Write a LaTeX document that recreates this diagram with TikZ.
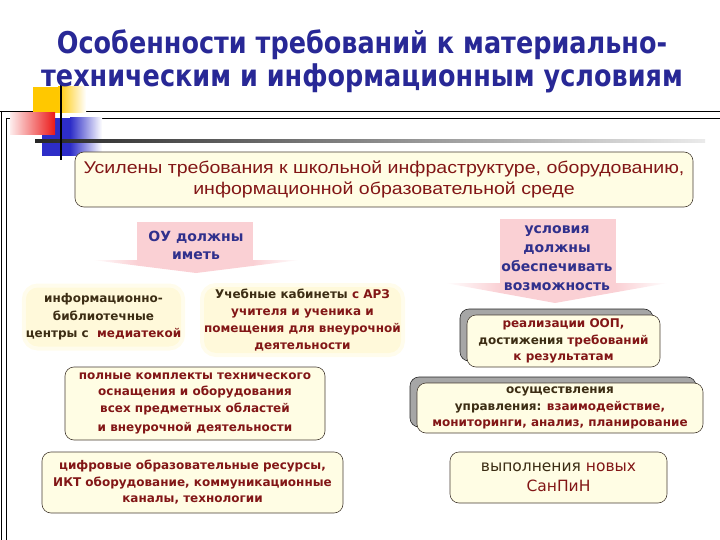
\documentclass[tikz,border=0pt]{standalone}
\usepackage{fontspec}
\setmainfont{DejaVu Sans}
\newfontfamily\titlefont{DejaVu Sans}[FakeStretch=0.85]
\newfontfamily\arialfont{Liberation Sans}[FakeStretch=1.15]
\usetikzlibrary{shadows}

\definecolor{titleblue}{RGB}{40,40,150}
\definecolor{darkred}{RGB}{130,22,22}
\definecolor{darktxt}{RGB}{60,45,20}
\definecolor{cream}{RGB}{255,253,228}
\definecolor{glowfill}{RGB}{255,249,218}
\definecolor{pinkarrow}{RGB}{250,208,212}
\definecolor{arrowblue}{RGB}{48,48,140}
\definecolor{boxline}{RGB}{70,60,50}
\definecolor{decoyellow}{RGB}{255,200,0}
\definecolor{decored}{RGB}{235,25,25}
\definecolor{decoblue}{RGB}{45,45,200}

\newcommand{\rd}[1]{\textcolor{darkred}{#1}}

\begin{document}
\begin{tikzpicture}[
  x=1pt, y=-1pt,
  box/.style={draw=boxline, line width=0.6pt, fill=cream, rounded corners=9pt, align=center,
    text=darkred, inner sep=0pt, font=\fontsize{12}{16.5}\selectfont\bfseries},
  glowbox/.style={fill=glowfill, draw=glowfill, draw opacity=0.5, line width=8pt, rounded corners=12pt,
    align=center, text=darktxt, inner sep=0pt, font=\fontsize{12}{17}\selectfont\bfseries},
  shadowbox/.style={box, drop shadow={shadow xshift=-7pt, shadow yshift=6pt, fill=gray!70,
    draw=gray!30!black, opacity=1}},
  arrowtext/.style={align=center, text=arrowblue, font=\fontsize{14}{19}\selectfont\bfseries}
]
\useasboundingbox (0,0) rectangle (720,540);

% frame
\draw[line width=0.8pt] (0,111) -- (720,111);
\draw[line width=0.8pt] (6,118) -- (720,118);
\draw[line width=0.8pt] (1.5,111) -- (1.5,540);
\draw[line width=0.8pt] (6,118) -- (6,540);

% corner decoration
\fill[decoyellow] (33,87) rectangle (58,113);
\shade[left color=decoyellow, right color=white] (58,87) rectangle (86,113);
\fill[decoblue] (42,118) rectangle (70,156);
\shade[left color=decoblue, right color=white] (70,118) rectangle (102,156);
\shade[left color=decored!8, right color=decored] (10,113) rectangle (55,135);
\shade[left color=black!85, right color=black!8] (35,140) rectangle (705,142.5);
\draw[line width=2pt] (61,83) -- (61,160);

\node[font=\titlefont\fontsize{30}{33}\selectfont\bfseries, text=titleblue, align=center] (title) at (362,61)
  {Особенности требований к материально-\\техническим и информационным условиям};

\node[box, font=\arialfont\fontsize{17}{21}\selectfont, minimum width=618pt, minimum height=55pt] (req) at (384,179.5)
  {Усилены требования к школьной инфраструктуре, оборудованию,\\информационной образовательной среде};

% left arrow
\fill[pinkarrow] (137,222) rectangle (253,262);
\fill[pinkarrow] (137,260) -- (137,265.6) -- (196,273) -- (253,265.9) -- (253,260) -- cycle;
\shade[left color=white, right color=pinkarrow] (92,260) -- (137,260) -- (137,265.6) -- cycle;
\shade[left color=pinkarrow, right color=white] (253,260) -- (300,260) -- (253,265.9) -- cycle;
\node[arrowtext, font=\fontsize{14}{18}\selectfont\bfseries] (must) at (196,245) {ОУ должны\\иметь};

% right arrow
\fill[pinkarrow] (500,219) rectangle (616,285);
\fill[pinkarrow] (500,283) -- (500,293) -- (555,303) -- (616,292.2) -- (616,283) -- cycle;
\shade[left color=white, right color=pinkarrow] (445,283) -- (500,283) -- (500,293) -- cycle;
\shade[left color=pinkarrow, right color=white] (616,283) -- (668,283) -- (616,292.2) -- cycle;
\node[arrowtext] (cond) at (557,258) {условия\\должны\\обеспечивать\\возможность};

% left column
\node[glowbox, font=\fontsize{12}{17.5}\selectfont\bfseries, minimum width=155pt, minimum height=59pt] (library) at (103.5,317)
  {информационно-\\библиотечные\\центры с\ \ \rd{медиатекой}};
\node[glowbox, minimum width=197pt, minimum height=66pt] (rooms) at (302.5,320)
  {Учебные кабинеты \rd{с АРЗ}\\\rd{учителя и ученика и}\\\rd{помещения для внеурочной}\\\rd{деятельности}};
\node[box, minimum width=260pt, minimum height=73pt] (kits) at (195,403.5)
  {полные комплекты технического\\оснащения и оборудования\\всех предметных областей\\[3pt]и внеурочной деятельности};
\node[box, minimum width=301pt, minimum height=61pt] (digital) at (192.5,482.5)
  {цифровые образовательные ресурсы,\\ИКТ оборудование, коммуникационные\\каналы, технологии};

% right column
\node[shadowbox, text=darktxt, minimum width=193pt, minimum height=52pt] (goals) at (563.5,341)
  {\rd{реализации ООП,}\\достижения \rd{требований}\\\rd{к результатам}};
\node[shadowbox, text=darktxt, minimum width=286pt, minimum height=50pt] (manage) at (560,408)
  {осуществления\\управления: \rd{взаимодействие,}\\\rd{мониторинги, анализ, планирование}};
\node[box, text=darktxt, font=\fontsize{15.5}{20}\selectfont, minimum width=217pt, minimum height=51pt] (sanpin) at (558.5,477.5)
  {выполнения \rd{новых}\\\rd{СанПиН}};
\end{tikzpicture}
\end{document}
